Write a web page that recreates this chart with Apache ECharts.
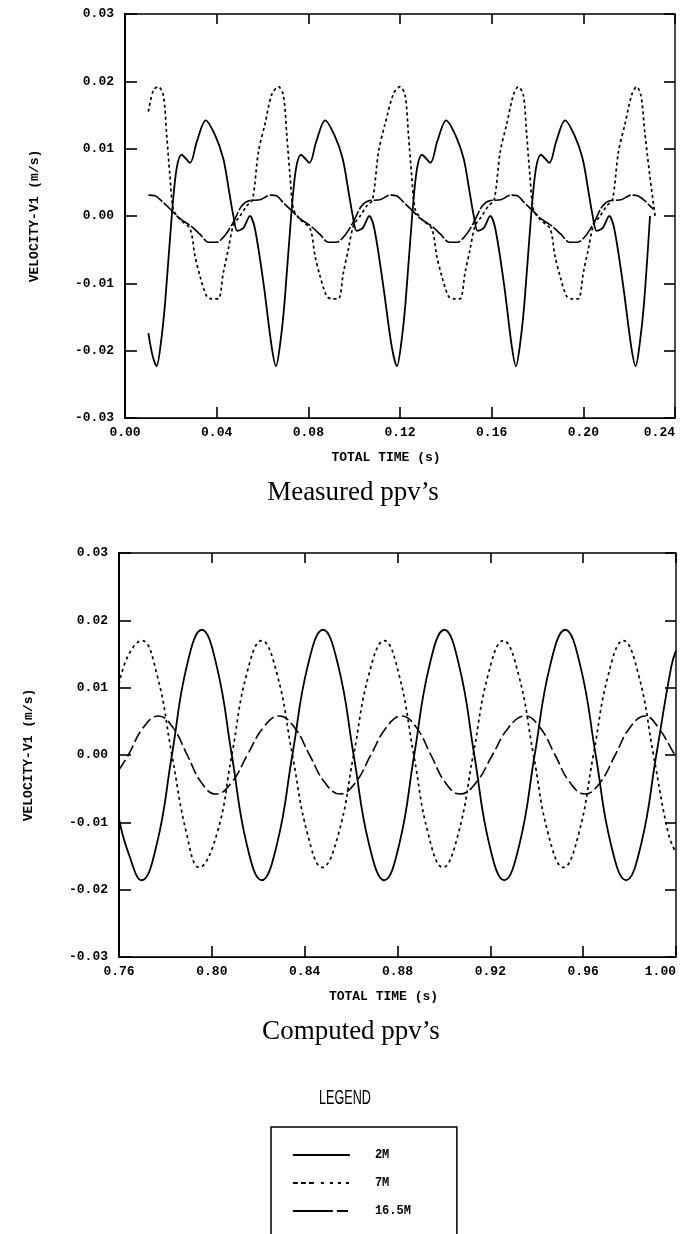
<!DOCTYPE html>
<html><head><meta charset="utf-8">
<script src="https://cdn.jsdelivr.net/npm/echarts@6/dist/echarts.min.js"></script>
<style>html,body{margin:0;padding:0;background:#fff}#c{width:690px;height:1234px}</style>
</head><body><div id="c"></div>
<script>
// ---------- data ----------
const seriesNames = ['2M', '7M', '16.5M'];
const measuredXTicks = [0.00, 0.04, 0.08, 0.12, 0.16, 0.20, 0.24];
const computedXTicks = [0.76, 0.80, 0.84, 0.88, 0.92, 0.96, 1.00];
const velocityTicks = [-0.03, -0.02, -0.01, 0.00, 0.01, 0.02, 0.03];
const xAxisTitle = 'TOTAL TIME (s)';
const yAxisTitle = 'VELOCITY-V1 (m/s)';
const captions = ['Measured ppv\u2019s', 'Computed ppv\u2019s'];

// Measured ppv's  [time (s), velocity (m/s)]
const measured2M = [
 [0.0102,-0.0174],[0.0120,-0.0207],[0.0138,-0.0223],[0.0156,-0.0190],[0.0175,-0.0129],[0.0204,0.0000],[0.0225,0.0070],[0.0247,0.0091],[0.0284,0.0079],[0.0313,0.0110],[0.0352,0.0142],[0.0393,0.0120],[0.0429,0.0085],[0.0455,0.0035],[0.0473,0.0000],[0.0490,-0.0022],[0.0516,-0.0018],[0.0545,0.0000],[0.0567,-0.0019],[0.0604,-0.0099],[0.0640,-0.0194],
 [0.0659,-0.0223],[0.0677,-0.0190],[0.0696,-0.0129],[0.0725,0.0000],[0.0746,0.0070],[0.0768,0.0091],[0.0805,0.0079],[0.0834,0.0110],[0.0873,0.0142],[0.0914,0.0120],[0.0950,0.0085],[0.0976,0.0035],[0.0994,0.0000],[0.1011,-0.0022],[0.1037,-0.0018],[0.1066,0.0000],[0.1088,-0.0019],[0.1125,-0.0099],[0.1164,-0.0194],
 [0.1187,-0.0223],[0.1205,-0.0190],[0.1224,-0.0129],[0.1253,0.0000],[0.1274,0.0070],[0.1296,0.0091],[0.1333,0.0079],[0.1362,0.0110],[0.1401,0.0142],[0.1442,0.0120],[0.1478,0.0085],[0.1504,0.0035],[0.1522,0.0000],[0.1539,-0.0022],[0.1565,-0.0018],[0.1594,0.0000],[0.1616,-0.0019],[0.1653,-0.0099],[0.1688,-0.0194],
 [0.1706,-0.0223],[0.1724,-0.0190],[0.1743,-0.0129],[0.1772,0.0000],[0.1793,0.0070],[0.1815,0.0091],[0.1852,0.0079],[0.1881,0.0110],[0.1920,0.0142],[0.1961,0.0120],[0.1997,0.0085],[0.2023,0.0035],[0.2041,0.0000],[0.2058,-0.0022],[0.2084,-0.0018],[0.2113,0.0000],[0.2135,-0.0019],[0.2172,-0.0099],[0.2209,-0.0194],
 [0.2228,-0.0223],[0.2246,-0.0190],[0.2265,-0.0129],[0.2291,0.0000]
];
const measured7M = [
 [0.0102,0.0155],[0.0124,0.0187],[0.0145,0.0192],[0.0167,0.0180],[0.0182,0.0120],[0.0196,0.0060],[0.0211,0.0010],[0.0240,-0.0005],[0.0284,-0.0019],[0.0305,-0.0059],[0.0327,-0.0089],[0.0356,-0.0119],[0.0378,-0.0123],[0.0407,-0.0123],[0.0429,-0.0084],[0.0451,-0.0049],[0.0473,-0.0014],[0.0502,0.0000],[0.0531,0.0015],[0.0556,0.0024],[0.0582,0.0095],[0.0611,0.0137],[0.0640,0.0180],
 [0.0669,0.0192],[0.0691,0.0180],[0.0706,0.0120],[0.0720,0.0060],[0.0735,0.0010],[0.0764,-0.0005],[0.0808,-0.0019],[0.0829,-0.0059],[0.0851,-0.0089],[0.0880,-0.0119],[0.0902,-0.0123],[0.0931,-0.0123],[0.0953,-0.0084],[0.0975,-0.0049],[0.0997,-0.0014],[0.1026,0.0000],[0.1055,0.0015],[0.1080,0.0024],[0.1106,0.0095],[0.1135,0.0137],[0.1172,0.0182],
 [0.1200,0.0192],[0.1222,0.0180],[0.1237,0.0120],[0.1251,0.0060],[0.1266,0.0010],[0.1295,-0.0005],[0.1339,-0.0019],[0.1360,-0.0059],[0.1382,-0.0089],[0.1411,-0.0119],[0.1433,-0.0123],[0.1462,-0.0123],[0.1484,-0.0084],[0.1506,-0.0049],[0.1528,-0.0014],[0.1557,0.0000],[0.1586,0.0015],[0.1611,0.0024],[0.1637,0.0095],[0.1666,0.0137],[0.1695,0.0180],
 [0.1716,0.0192],[0.1738,0.0180],[0.1753,0.0120],[0.1767,0.0060],[0.1782,0.0010],[0.1811,-0.0005],[0.1855,-0.0019],[0.1876,-0.0059],[0.1898,-0.0089],[0.1927,-0.0119],[0.1949,-0.0123],[0.1978,-0.0123],[0.2000,-0.0084],[0.2022,-0.0049],[0.2044,-0.0014],[0.2073,0.0000],[0.2102,0.0015],[0.2127,0.0024],[0.2153,0.0095],[0.2182,0.0137],[0.2211,0.0180],
 [0.2233,0.0192],[0.2252,0.0178],[0.2268,0.0125],[0.2290,0.0060],[0.2313,0.0000]
];
const measured16M = [
 [0.0102,0.0031],[0.0131,0.0030],[0.0167,0.0020],[0.0204,0.0008],[0.0240,-0.0004],[0.0284,-0.0014],[0.0327,-0.0027],[0.0364,-0.0039],[0.0400,-0.0039],[0.0436,-0.0029],[0.0473,-0.0009],[0.0509,0.0015],[0.0545,0.0023],[0.0589,0.0024],[0.0633,0.0031],[0.0662,0.0030],
 [0.0690,0.0020],[0.0727,0.0008],[0.0763,-0.0004],[0.0807,-0.0014],[0.0850,-0.0027],[0.0887,-0.0039],[0.0923,-0.0039],[0.0959,-0.0029],[0.0996,-0.0009],[0.1032,0.0015],[0.1068,0.0023],[0.1112,0.0024],[0.1156,0.0031],[0.1185,0.0030],
 [0.1217,0.0020],[0.1254,0.0008],[0.1290,-0.0004],[0.1334,-0.0014],[0.1377,-0.0027],[0.1414,-0.0039],[0.1450,-0.0039],[0.1486,-0.0029],[0.1523,-0.0009],[0.1559,0.0015],[0.1595,0.0023],[0.1639,0.0024],[0.1683,0.0031],[0.1712,0.0030],
 [0.1742,0.0020],[0.1779,0.0008],[0.1815,-0.0004],[0.1859,-0.0014],[0.1902,-0.0027],[0.1939,-0.0039],[0.1975,-0.0039],[0.2011,-0.0029],[0.2048,-0.0009],[0.2084,0.0015],[0.2120,0.0023],[0.2164,0.0024],[0.2208,0.0031],[0.2237,0.0030],[0.2270,0.0022],[0.2291,0.0015],[0.2305,0.0010]
];

// Computed ppv's  [time (s), velocity (m/s)]
const computed2M = [
 [0.7600,-0.0095],[0.7640,-0.0145],[0.7698,-0.0186],[0.7763,-0.0132],[0.7828,0.0000],[0.7892,0.0132],[0.7957,0.0186],[0.8021,0.0132],[0.8086,0.0000],[0.8150,-0.0132],
 [0.8215,-0.0186],[0.8281,-0.0132],[0.8347,0.0000],[0.8413,0.0132],[0.8479,0.0186],[0.8545,0.0132],[0.8611,0.0000],[0.8677,-0.0132],
 [0.8743,-0.0186],[0.8808,-0.0132],[0.8872,0.0000],[0.8937,0.0132],[0.9002,0.0186],[0.9066,0.0132],[0.9131,0.0000],[0.9195,-0.0132],
 [0.9260,-0.0186],[0.9326,-0.0132],[0.9391,0.0000],[0.9457,0.0132],[0.9523,0.0186],[0.9588,0.0132],[0.9654,0.0000],[0.9719,-0.0132],
 [0.9785,-0.0186],[0.9850,-0.0132],[0.9915,0.0000],[0.9980,0.0132],[1.0000,0.0155]
];
const computed7M = [
 [0.7600,0.0105],[0.7640,0.0148],[0.7698,0.0170],[0.7763,0.0120],[0.7828,0.0000],[0.7892,-0.0118],[0.7945,-0.0167],[0.8021,-0.0118],[0.8086,0.0000],[0.8150,0.0120],
 [0.8215,0.0170],[0.8281,0.0120],[0.8347,0.0000],[0.8413,-0.0118],[0.8476,-0.0167],[0.8545,-0.0118],[0.8611,0.0000],[0.8677,0.0120],
 [0.8743,0.0170],[0.8806,0.0120],[0.8870,0.0000],[0.8933,-0.0118],[0.8996,-0.0167],[0.9061,-0.0118],[0.9126,0.0000],[0.9191,0.0120],
 [0.9256,0.0170],[0.9321,0.0120],[0.9386,0.0000],[0.9450,-0.0118],[0.9515,-0.0167],[0.9580,-0.0118],[0.9644,0.0000],[0.9709,0.0120],
 [0.9773,0.0170],[0.9838,0.0120],[0.9903,0.0000],[0.9968,-0.0118],[1.0000,-0.0145]
];
const computed16M = [
 [0.7600,-0.0022],[0.7640,0.0000],[0.7705,0.0041],[0.7770,0.0058],[0.7832,0.0041],[0.7894,0.0000],[0.7955,-0.0041],
 [0.8017,-0.0058],[0.8085,-0.0041],[0.8153,0.0000],[0.8222,0.0041],[0.8290,0.0058],[0.8356,0.0041],[0.8421,0.0000],[0.8487,-0.0041],
 [0.8552,-0.0058],[0.8619,-0.0041],[0.8685,0.0000],[0.8752,0.0041],[0.8818,0.0058],[0.8881,0.0041],[0.8944,0.0000],[0.9006,-0.0041],
 [0.9069,-0.0058],[0.9139,-0.0041],[0.9209,0.0000],[0.9279,0.0041],[0.9349,0.0058],[0.9414,0.0041],[0.9479,0.0000],[0.9543,-0.0041],
 [0.9608,-0.0058],[0.9673,-0.0041],[0.9738,0.0000],[0.9802,0.0041],[0.9867,0.0058],[0.9925,0.0040],[0.9990,0.0003],[1.0000,-0.0003]
];

// ---------- chart ----------
const BLACK = '#000';
const MONO = '"Liberation Mono", "DejaVu Sans Mono", monospace';
const fmt = v => (Math.abs(v) < 1e-9 ? 0 : v).toFixed(2);
const ext = a => ({min: a[0], max: a[a.length - 1], interval: +(a[1] - a[0]).toFixed(4)});

function mainX(grid, ticks) {
  return Object.assign({type: 'value', gridIndex: grid, position: 'bottom',
    name: xAxisTitle, nameLocation: 'middle', nameGap: 33,
    nameTextStyle: {color: BLACK, fontFamily: MONO, fontWeight: 'bold', fontSize: 13, padding: [0, 28, 0, 0]},
    axisLine: {show: true, onZero: false, lineStyle: {color: BLACK, width: 1.2}},
    axisTick: {show: true, inside: true, length: 11, lineStyle: {color: BLACK, width: 1.6}},
    axisLabel: {color: BLACK, fontFamily: MONO, fontWeight: 'bold', fontSize: 13, margin: 8, formatter: fmt, alignMaxLabel: 'right'},
    splitLine: {show: false}}, ext(ticks));
}
function sideX(grid, ticks) {
  return Object.assign({type: 'value', gridIndex: grid, position: 'top',
    axisLine: {show: false, onZero: false}, axisLabel: {show: false}, splitLine: {show: false},
    axisTick: {show: true, inside: true, length: 10, lineStyle: {color: BLACK, width: 1.6}}}, ext(ticks));
}
function mainY(grid, gap) {
  return Object.assign({type: 'value', gridIndex: grid, position: 'left',
    name: yAxisTitle, nameLocation: 'middle', nameGap: gap, nameRotate: 90,
    nameTextStyle: {color: BLACK, fontFamily: MONO, fontWeight: 'bold', fontSize: 13},
    axisLine: {show: true, onZero: false, lineStyle: {color: BLACK, width: 2}},
    axisTick: {show: true, inside: true, length: 12, lineStyle: {color: BLACK, width: 1.6}},
    axisLabel: {color: BLACK, fontFamily: MONO, fontWeight: 'bold', fontSize: 13, margin: 11, formatter: fmt},
    splitLine: {show: false}}, ext(velocityTicks));
}
function sideY(grid) {
  return Object.assign({type: 'value', gridIndex: grid, position: 'right',
    axisLine: {show: false, onZero: false}, axisLabel: {show: false}, splitLine: {show: false},
    axisTick: {show: true, inside: true, length: 11, lineStyle: {color: BLACK, width: 1.6}}}, ext(velocityTicks));
}

const dashTop = {'2M': 'solid', '7M': [3, 3], '16.5M': [16, 2]};
const dashBottom = {'2M': 'solid', '7M': [3, 3.5], '16.5M': [12, 4]};
const widths = {'2M': 1.8, '7M': 1.7, '16.5M': 1.6};

function line(name, data, axisIdx, dash, smooth) {
  return {type: 'line', name: name, data: data, xAxisIndex: axisIdx, yAxisIndex: axisIdx,
    symbol: 'none', smooth: smooth, animation: false, silent: true,
    lineStyle: {color: BLACK, width: widths[name], type: dash[name]}, itemStyle: {color: BLACK}};
}

const chart = echarts.init(document.getElementById('c'), null, {renderer: 'canvas'});
chart.setOption({
  backgroundColor: '#fff',
  animation: false,
  grid: [
    {left: 125, top: 14, width: 550, height: 404, show: true, borderColor: BLACK, borderWidth: 1.4, backgroundColor: 'transparent'},
    {left: 119, top: 553, width: 557, height: 404, show: true, borderColor: BLACK, borderWidth: 1.4, backgroundColor: 'transparent'}
  ],
  xAxis: [mainX(0, measuredXTicks), sideX(0, measuredXTicks), mainX(1, computedXTicks), sideX(1, computedXTicks)],
  yAxis: [mainY(0, 84), sideY(0), mainY(1, 84), sideY(1)],
  legend: {
    show: true, orient: 'vertical', left: 271, top: 1127, height: 90,
    itemWidth: 57, itemHeight: 10, itemGap: 16,
    padding: [22, 46, 40, 21],
    borderColor: BLACK, borderWidth: 1.5, backgroundColor: '#fff',
    selectedMode: false,
    itemStyle: {opacity: 0},
    textStyle: {color: BLACK, fontFamily: MONO, fontWeight: 'bold', fontSize: 12, padding: [0, 0, 0, 20]},
    data: [
      {name: seriesNames[0], lineStyle: {type: 'solid', width: 1.8}},
      {name: seriesNames[1], lineStyle: {type: [5, 3, 5, 3, 5, 7, 3, 6, 3], width: 1.8}},
      {name: seriesNames[2], lineStyle: {type: [40, 4, 11, 100], width: 1.8}}
    ]
  },
  graphic: [
    {type: 'text', x: 353, y: 493, style: {text: captions[0], textAlign: 'center', textVerticalAlign: 'middle', fill: BLACK, font: '27px "Liberation Serif", "Times New Roman", serif'}},
    {type: 'text', x: 351, y: 1032, style: {text: captions[1], textAlign: 'center', textVerticalAlign: 'middle', fill: BLACK, font: '27px "Liberation Serif", "Times New Roman", serif'}},
    {type: 'text', x: 345, y: 1098, scaleX: 0.6, style: {text: 'LEGEND', textAlign: 'center', textVerticalAlign: 'middle', fill: BLACK, font: '21px "Liberation Sans", sans-serif'}}
  ],
  series: [
    line(seriesNames[0], measured2M, 0, dashTop, 0.3),
    line(seriesNames[1], measured7M, 0, dashTop, 0.3),
    line(seriesNames[2], measured16M, 0, dashTop, 0.3),
    line(seriesNames[0], computed2M, 2, dashBottom, 0.45),
    line(seriesNames[1], computed7M, 2, dashBottom, 0.45),
    line(seriesNames[2], computed16M, 2, dashBottom, 0.45)
  ]
});
</script>
</body></html>
